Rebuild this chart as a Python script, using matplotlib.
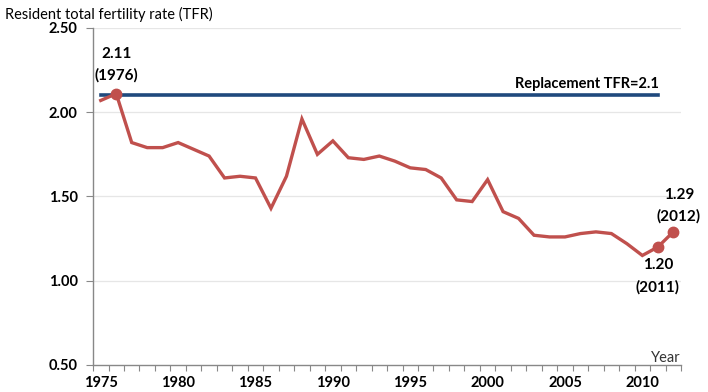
import numpy as np
from matplotlib import pyplot as plt

plt.rcParams['font.family'] = ['Lato', 'DejaVu Sans']

# resident TFR by year
years = list(range(1975, 2013))
tfr = [2.07, 2.11, 1.82, 1.79, 1.79, 1.82, 1.78, 1.74, 1.61, 1.62,
       1.61, 1.43, 1.62, 1.96, 1.75, 1.83, 1.73, 1.72, 1.74, 1.71,
       1.67, 1.66, 1.61, 1.48, 1.47, 1.60, 1.41, 1.37, 1.27, 1.26,
       1.26, 1.28, 1.29, 1.28, 1.22, 1.15, 1.20, 1.29]
replacement = 2.1
replacement_last_year = 2011
highlight_years = [1976, 2011, 2012]
label_years = [1975, 1980, 1985, 1990, 1995, 2000, 2005, 2010]

red = '#C0504D'
blue = '#1F497D'

x = np.arange(len(years))
idx = {y: i for i, y in enumerate(years)}

fig = plt.figure(figsize=(7.08, 3.92), dpi=100)
ax = fig.add_axes([0.1314, 0.0689, 0.8305, 0.8597])

ax.set_xlim(-0.5, len(years) - 0.5)
ax.set_ylim(0.5, 2.5)

# light horizontal gridlines
for v in [1.0, 1.5, 2.0, 2.5]:
    ax.axhline(v, color='#E6E6E6', lw=0.9, zorder=0)

# replacement level line
rep_x = x[:idx[replacement_last_year] + 1]
ax.plot(rep_x, [replacement] * len(rep_x), color=blue, lw=2.6, zorder=2)

# TFR series
ax.plot(x, tfr, color=red, lw=2.4, zorder=3, solid_joinstyle='miter')
hx = [idx[y] for y in highlight_years]
ax.plot(hx, [tfr[i] for i in hx], 'o', color=red, ms=7.5, zorder=4)

bold = dict(fontsize=11, fontweight='bold', ha='center', linespacing=1.65)
i = idx[1976]
ax.annotate(f'{tfr[i]:.2f}\n({years[i]})', (x[i], tfr[i]), xytext=(0, 8),
            textcoords='offset points', va='bottom', **bold)
i = idx[2012]
ax.annotate(f'{tfr[i]:.2f}\n({years[i]})', (x[i], tfr[i]), xytext=(4, 6),
            textcoords='offset points', va='bottom', **bold)
i = idx[2011]
ax.annotate(f'{tfr[i]:.2f}\n({years[i]})', (x[i], tfr[i]), xytext=(0, -8),
            textcoords='offset points', va='top', **bold)

ax.annotate(f'Replacement TFR={replacement}', (idx[replacement_last_year], replacement),
            xytext=(1, 3), textcoords='offset points', ha='right', va='bottom',
            fontsize=10.5, fontweight='bold')

# axes styling
for s in ['top', 'right']:
    ax.spines[s].set_visible(False)
for s in ['left', 'bottom']:
    ax.spines[s].set_color('#888888')
    ax.spines[s].set_linewidth(1.0)

ax.set_yticks([0.5, 1.0, 1.5, 2.0, 2.5])
ax.set_yticklabels([f'{v:.2f}' for v in ax.get_yticks()], fontweight='bold', fontsize=10.5)
ax.tick_params(axis='y', length=5, color='#888888', pad=6)

# tick marks between categories, labels on category centres
ax.set_xticks(np.arange(-0.5, len(years), 1.0))
ax.set_xticklabels([])
ax.tick_params(axis='x', which='major', length=4, color='#888888')
ax.set_xticks([idx[y] for y in label_years], minor=True)
ax.set_xticklabels([str(y) for y in label_years], minor=True, fontweight='bold', fontsize=10.5)
ax.tick_params(axis='x', which='minor', length=0, pad=8)

fig.text(5 / 708, 1 - 14 / 392, 'Resident total fertility rate (TFR)', fontsize=10.5,
         va='center', ha='left')
ax.text(1.0, 0.0, 'Year', transform=ax.transAxes, ha='right', va='bottom',
        fontsize=10.5, color='#333333')

fig.savefig('out.png', dpi=100)
